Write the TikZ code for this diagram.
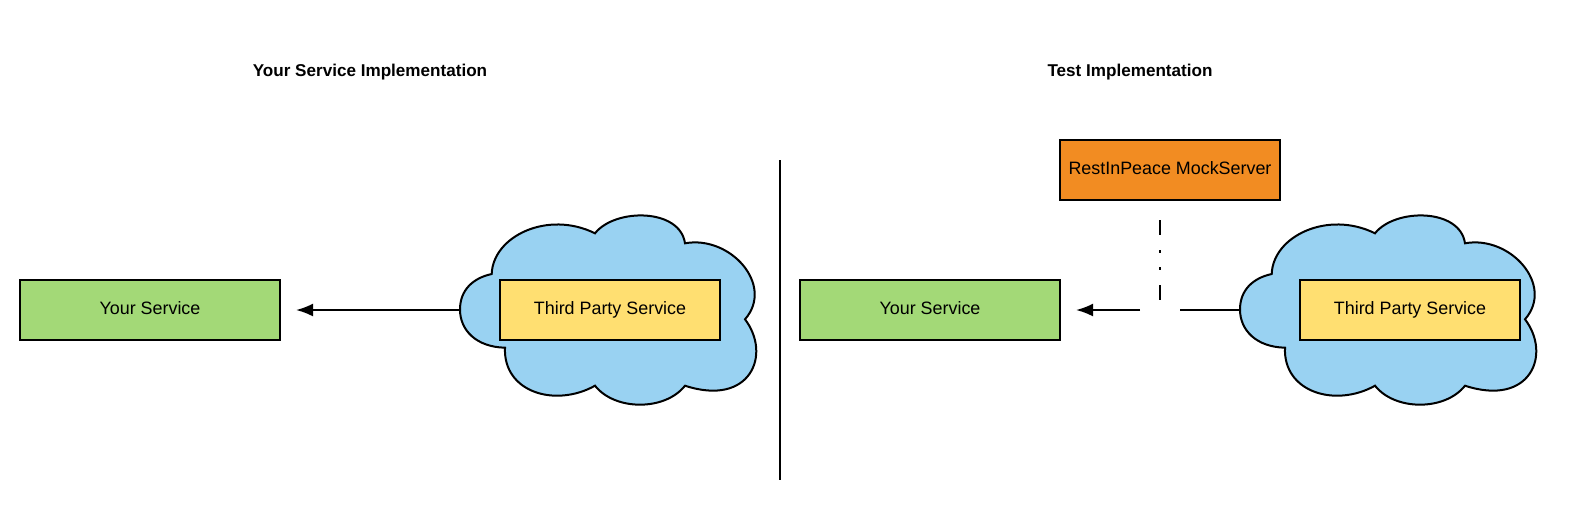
\documentclass[tikz,border=0pt]{standalone}
\usepackage{fontspec}
\setmainfont{Liberation Sans}
\usetikzlibrary{arrows.meta,positioning}
\definecolor{servicegreen}{HTML}{A3D977}
\definecolor{thirdyellow}{HTML}{FFDF71}
\definecolor{cloudblue}{HTML}{99D2F2}
\definecolor{mockorange}{HTML}{F28C22}
\tikzset{
    box/.style={draw=black, line width=2pt, inner sep=0pt, minimum height=60pt, text height=13pt, text depth=4.4pt, font=\fontsize{17.9}{22}\selectfont},
    service/.style={box, fill=servicegreen, minimum width=260pt},
    third/.style={box, fill=thirdyellow, minimum width=220pt},
    mock/.style={box, fill=mockorange, minimum width=220pt},
    title/.style={font=\fontsize{17.1}{20}\selectfont\bfseries},
    wire/.style={draw=black, line width=2pt},
    cloudbody/.pic={
        \draw [line width=2pt, fill=cloudblue, miter limit=4]
            (491.7,274) .. controls (493,236) and (548,210) .. (595,233.3)
            .. controls (615,208) and (680,208) .. (685,243.3)
            .. controls (730,235) and (775,285) .. (745,319.3)
            .. controls (772,355) and (750,407) .. (685,385.7)
            .. controls (665,411) and (615,411) .. (595,385.7)
            .. controls (555,408) and (503,392) .. (505,347.7)
            .. controls (476,347) and (460,330) .. (460,309.5)
            .. controls (460,290) and (473,278) .. (491.7,274) -- cycle;
    }
}
\begin{document}
\begin{tikzpicture}[x=1pt, y=-1pt]
\useasboundingbox (0,0) rectangle (1595,520);

% left half
\node [title] (lefttitle) at (370,72) {Your Service Implementation};
\node [service] (yours) at (150,310) {Your Service};
\path (0,0) pic {cloudbody};
\node [third] (party) at (610,310) {Third Party Service};
\coordinate (cloudl) at (460,310);
\coordinate (tipl) at (296,310);
\draw [wire, -{Latex[length=17pt,width=13pt]}] (cloudl) -- (tipl);

\coordinate (topdiv) at (780,160);
\coordinate (botdiv) at (780,480);
\draw [wire] (topdiv) -- (botdiv);

% right half
\node [title] (righttitle) at (1130,72) {Test Implementation};
\node [service] (yourstest) at (930,310) {Your Service};
\path (780,0) pic {cloudbody};
\node [third] (partytest) at (1410,310) {Third Party Service};
\node [mock] (mockserver) at (1170,170) {RestInPeace MockServer};
\coordinate (cloudr) at (1240,310);
\coordinate (gapr) at (1180,310);
\coordinate (gapl) at (1140,310);
\coordinate (tipr) at (1076,310);
\coordinate (mocka) at (1160,220);
\coordinate (mockb) at (1160,300);
\draw [wire] (cloudr) -- (gapr);
\draw [wire, -{Latex[length=17pt,width=13pt]}] (gapl) -- (tipr);
\draw [wire, dash pattern=on 15pt off 15pt on 3pt off 14pt on 3pt off 15pt] (mocka) -- (mockb);
\end{tikzpicture}
\end{document}
